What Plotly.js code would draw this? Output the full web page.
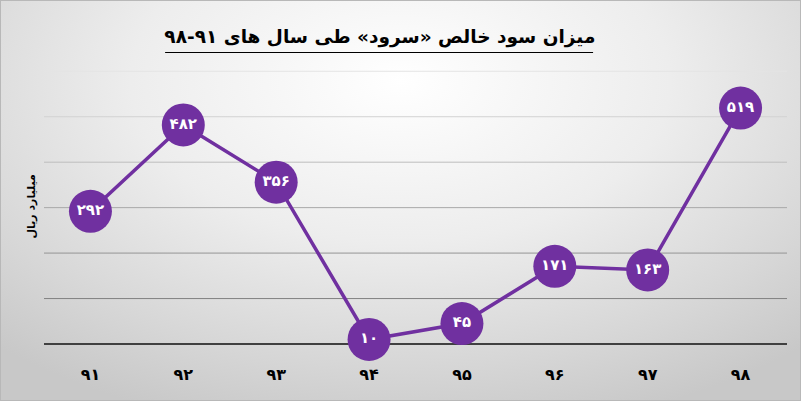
<!DOCTYPE html>
<html>
<head>
<meta charset="utf-8">
<script src="https://cdn.plot.ly/plotly-3.0.1.min.js"></script>
<style>
  html, body { margin: 0; padding: 0; }
  #chart {
    width: 801px; height: 401px; box-sizing: border-box;
    border: 1px solid #b8b8b8;
    background: radial-gradient(ellipse 75% 90% at 50% 20%, #ffffff 0%, #ededed 45%, #d6d6d6 80%, #c8c8c8 100%);
  }
</style>
</head>
<body>
<div id="chart"></div>
<script>
const years = ['۹۱', '۹۲', '۹۳', '۹۴', '۹۵', '۹۶', '۹۷', '۹۸'];
const netProfit = [292, 482, 356, 10, 45, 171, 163, 519];
const valueLabels = ['۲۹۲', '۴۸۲', '۳۵۶', '۱۰', '۴۵', '۱۷۱', '۱۶۳', '۵۱۹'];
const gridValues = [100, 200, 300, 400, 500, 600];
const gridColors = ['#828282', '#959595', '#a9a9a9', '#bdbdbd', '#d2d2d2', '#e4e4e4'];
const titleText = 'میزان سود خالص «سرود» طی سال های ۹۱-۹۸';
const yTitleText = 'میلیارد ریال';

const purple = '#7030A0';
const fontFam = '"DejaVu Sans", Arial, sans-serif';

const trace = {
  type: 'scatter',
  mode: 'lines+markers+text',
  x: years,
  y: netProfit,
  text: valueLabels,
  textposition: 'middle center',
  textfont: { family: fontFam, size: 15, color: '#ffffff', weight: 'bold' },
  line: { color: purple, width: 3.5 },
  marker: { color: purple, size: 43, line: { width: 0 } },
  cliponaxis: false,
  hoverinfo: 'none'
};

const gridShapes = gridValues.map((v, i) => ({
  type: 'line', xref: 'paper', yref: 'y', layer: 'below',
  x0: 0, x1: 1, y0: v, y1: v,
  line: { color: gridColors[i], width: 1 }
}));

const layout = {
  width: 801, height: 401,
  paper_bgcolor: 'rgba(0,0,0,0)',
  plot_bgcolor: 'rgba(0,0,0,0)',
  margin: { l: 43, r: 15, t: 68, b: 58, autoexpand: false },
  showlegend: false,
  font: { family: fontFam, color: '#000' },
  title: {
    text: '<b>' + titleText + '</b>',
    font: { family: fontFam, size: 18.5, color: '#000' },
    x: 0.473, xanchor: 'center',
    y: 0.912, yanchor: 'middle'
  },
  xaxis: {
    type: 'category',
    range: [-0.5, years.length - 0.5],
    automargin: false,
    showgrid: false,
    zeroline: false,
    showline: false,
    ticks: '',
    tickfont: { family: fontFam, size: 16, color: '#000', weight: 'bold' },
    ticklabelstandoff: 19
  },
  yaxis: {
    range: [0, 605],
    dtick: 100,
    automargin: false,
    showgrid: false,
    zeroline: true,
    zerolinecolor: '#404040',
    zerolinewidth: 2.5,
    showticklabels: false,
    ticks: ''
  },
  annotations: [
    { text: '<b>' + yTitleText + '</b>', xref: 'paper', yref: 'paper',
      x: 0, y: 0.5, xanchor: 'center', yanchor: 'middle', xshift: -13,
      textangle: -90, showarrow: false,
      font: { family: fontFam, size: 11, color: '#000' } }
  ],
  shapes: gridShapes.concat([
    { type: 'line', xref: 'paper', yref: 'paper',
      x0: 0.163, x1: 0.739, y0: 1.06, y1: 1.06,
      line: { color: '#000', width: 1.2 } }
  ])
};

Plotly.newPlot('chart', [trace], layout, { displayModeBar: false, staticPlot: true });
</script>
</body>
</html>
